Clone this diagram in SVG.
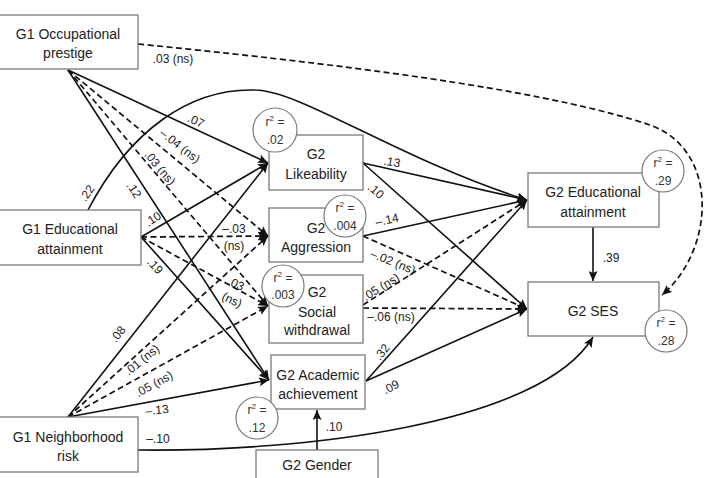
<svg xmlns="http://www.w3.org/2000/svg" width="718" height="478" viewBox="0 0 718 478">
<defs>
<marker id="ah" markerUnits="userSpaceOnUse" markerWidth="11" markerHeight="9" refX="10" refY="4.5" orient="auto">
<path d="M0,0 L10,4.5 L0,9 L2,4.5 z" fill="#111"/>
</marker>
<style>
.box{fill:#fff;stroke:#7a7a7a;stroke-width:1.3}
.circ{fill:#fff;stroke:#7a7a7a;stroke-width:1.2}
.nt{font-family:"Liberation Sans",Arial,sans-serif;font-size:14px;fill:#222;text-anchor:middle;dominant-baseline:central}
.ct{font-family:"Liberation Sans",Arial,sans-serif;font-size:12px;fill:#333;text-anchor:middle;dominant-baseline:central}
.lb{font-family:"Liberation Sans",Arial,sans-serif;font-size:12px;fill:#222;text-anchor:middle;dominant-baseline:central}
.s{fill:none;stroke:#111;stroke-width:1.6;marker-end:url(#ah)}
.d{fill:none;stroke:#111;stroke-width:1.7;stroke-dasharray:6,3.5;marker-end:url(#ah)}
.sup{font-size:8px}
</style>
</defs>
<rect width="718" height="478" fill="#fff"/>

<g id="connectors">
<!-- from G1 Occupational prestige -->
<path class="s" d="M68,70 L268,163"/>
<path class="d" d="M68,70 L268,236"/>
<path class="d" d="M68,70 L268,306"/>
<path class="s" d="M68,70 L269,380"/>
<path class="d" d="M138,44 C400,70 560,95 650,125 C720,150 715,250 662,295"/>
<!-- from G1 Educational attainment -->
<path class="s" d="M88,210 C130,130 190,88 255,90 C300,90 400,160 527,200"/>
<path class="s" d="M141,237 L268,163"/>
<path class="d" d="M141,237 L268,236"/>
<path class="d" d="M141,237 L268,306"/>
<path class="s" d="M141,237 L269,380"/>
<!-- from G1 Neighborhood risk -->
<path class="s" d="M68,417 L268,163"/>
<path class="d" d="M68,417 L268,236"/>
<path class="d" d="M68,417 L268,306"/>
<path class="s" d="M68,417 L269,380"/>
<path class="s" d="M138,450 C300,452 540,425 593,337"/>
<!-- from G2 mediators -->
<path class="s" d="M363,163 L527,200"/>
<path class="s" d="M363,163 L527,309"/>
<path class="s" d="M363,236 L527,200"/>
<path class="d" d="M363,236 L527,309"/>
<path class="d" d="M363,305 L527,200"/>
<path class="d" d="M363,308 L527,309"/>
<path class="s" d="M366,381 L527,200"/>
<path class="s" d="M366,381 L527,309"/>
<path class="s" d="M317,450 L317,410"/>
<path class="s" d="M593,227 L593,281"/>
</g>

<g id="labels">
<text class="lb" x="173" y="59">.03 (ns)</text>
<text class="lb" transform="translate(196,121) rotate(25)">.07</text>
<text class="lb" transform="translate(180,146) rotate(38)">–.04 (ns)</text>
<text class="lb" transform="translate(160,168) rotate(50)">.03 (ns)</text>
<text class="lb" transform="translate(134,190) rotate(57)">.12</text>
<text class="lb" transform="translate(87,193) rotate(-55)">.22</text>
<text class="lb" transform="translate(153,219) rotate(-33)">.10</text>
<text class="lb" x="234" y="229">–.03</text>
<text class="lb" x="234" y="246">(ns)</text>
<text class="lb" transform="translate(236,284) rotate(25)">.03</text>
<text class="lb" transform="translate(232,300) rotate(25)">(ns)</text>
<text class="lb" transform="translate(155,266) rotate(48)">.19</text>
<text class="lb" transform="translate(118,334) rotate(-52)">.08</text>
<text class="lb" transform="translate(142,360) rotate(-39)">.01 (ns)</text>
<text class="lb" transform="translate(154,384) rotate(-29)">.05 (ns)</text>
<text class="lb" transform="translate(157,410) rotate(-6)">–.13</text>
<text class="lb" x="158" y="439">–.10</text>
<text class="lb" transform="translate(392,162) rotate(10)">.13</text>
<text class="lb" transform="translate(376,191) rotate(42)">.10</text>
<text class="lb" transform="translate(387,220) rotate(-12)">–.14</text>
<text class="lb" transform="translate(393,262) rotate(22)">–.02 (ns)</text>
<text class="lb" transform="translate(381,287) rotate(-32)">.05 (ns)</text>
<text class="lb" x="391" y="317">–.06 (ns)</text>
<text class="lb" transform="translate(382,352) rotate(-52)">.32</text>
<text class="lb" transform="translate(391,387) rotate(-28)">.09</text>
<text class="lb" x="334" y="427">.10</text>
<text class="lb" x="611" y="258">.39</text>
</g>

<g id="g1-occ">
<rect class="box" x="-2" y="15" width="140" height="54"/>
<text class="nt" x="68" y="34">G1 Occupational</text>
<text class="nt" x="68" y="53">prestige</text>
</g>
<g id="g1-edu">
<rect class="box" x="-2" y="210" width="143" height="55"/>
<text class="nt" x="70" y="229">G1 Educational</text>
<text class="nt" x="70" y="249">attainment</text>
</g>
<g id="g1-nbr">
<rect class="box" x="-2" y="417" width="140" height="55"/>
<text class="nt" x="68" y="437">G1 Neighborhood</text>
<text class="nt" x="68" y="456">risk</text>
</g>
<g id="g2-like">
<rect class="box" x="269" y="135" width="94" height="55"/>
<text class="nt" x="316" y="154">G2</text>
<text class="nt" x="316" y="174">Likeability</text>
<circle class="circ" cx="275" cy="130" r="22"/>
<text class="ct" x="275" y="122">r<tspan class="sup" dy="-4">2</tspan><tspan dy="4"> =</tspan></text>
<text class="ct" x="275" y="140">.02</text>
</g>
<g id="g2-agg">
<rect class="box" x="269" y="208" width="94" height="54"/>
<text class="nt" x="316" y="228">G2</text>
<text class="nt" x="316" y="247">Aggression</text>
<circle class="circ" cx="345" cy="216" r="21"/>
<text class="ct" x="345" y="208">r<tspan class="sup" dy="-4">2</tspan><tspan dy="4"> =</tspan></text>
<text class="ct" x="345" y="226">.004</text>
</g>
<g id="g2-soc">
<rect class="box" x="269" y="275" width="94" height="68"/>
<text class="nt" x="317" y="292">G2</text>
<text class="nt" x="317" y="312">Social</text>
<text class="nt" x="317" y="330">withdrawal</text>
<circle class="circ" cx="283" cy="286" r="21"/>
<text class="ct" x="283" y="278">r<tspan class="sup" dy="-4">2</tspan><tspan dy="4"> =</tspan></text>
<text class="ct" x="283" y="295">.003</text>
</g>
<g id="g2-acad">
<rect class="box" x="271" y="355" width="94" height="54"/>
<text class="nt" x="318" y="375">G2 Academic</text>
<text class="nt" x="318" y="394">achievement</text>
<circle class="circ" cx="257" cy="418" r="21"/>
<text class="ct" x="257" y="410">r<tspan class="sup" dy="-4">2</tspan><tspan dy="4"> =</tspan></text>
<text class="ct" x="257" y="428">.12</text>
</g>
<g id="g2-gender">
<rect class="box" x="256" y="450" width="122" height="30"/>
<text class="nt" x="317" y="465">G2 Gender</text>
</g>
<g id="g2-edu">
<rect class="box" x="528" y="173" width="131" height="54"/>
<text class="nt" x="593" y="192">G2 Educational</text>
<text class="nt" x="593" y="212">attainment</text>
<circle class="circ" cx="663" cy="171" r="21"/>
<text class="ct" x="663" y="163">r<tspan class="sup" dy="-4">2</tspan><tspan dy="4"> =</tspan></text>
<text class="ct" x="663" y="181">.29</text>
</g>
<g id="g2-ses">
<rect class="box" x="528" y="282" width="131" height="54"/>
<text class="nt" x="593" y="311">G2 SES</text>
<circle class="circ" cx="666" cy="331" r="21"/>
<text class="ct" x="666" y="323">r<tspan class="sup" dy="-4">2</tspan><tspan dy="4"> =</tspan></text>
<text class="ct" x="666" y="341">.28</text>
</g>
</svg>
